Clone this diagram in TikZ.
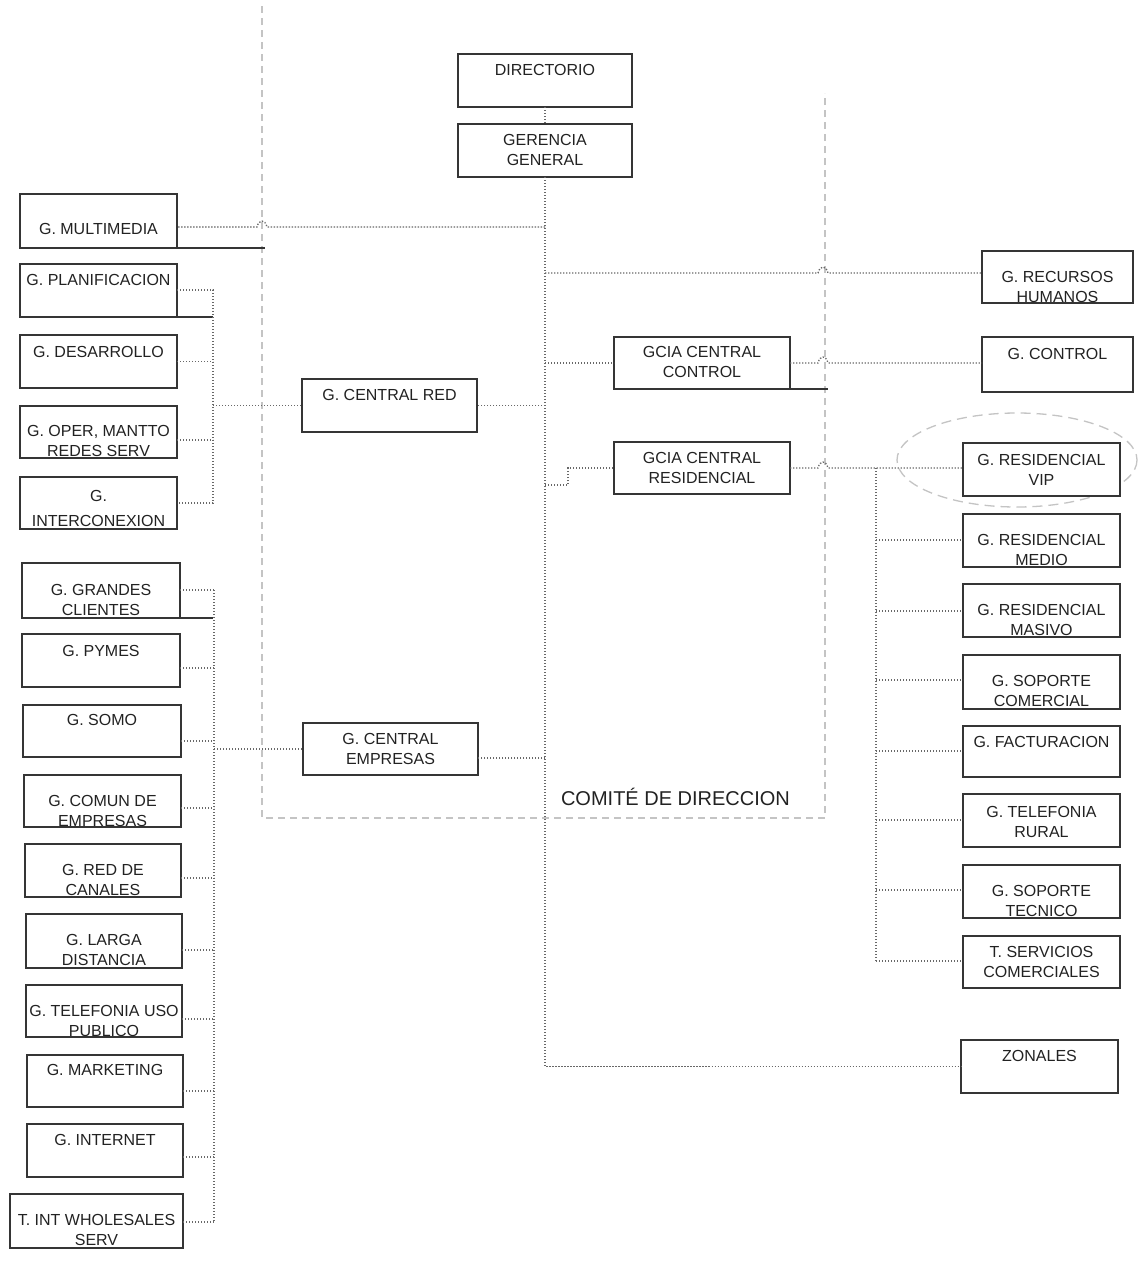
\documentclass[tikz,border=0pt]{standalone}
\usepackage{fontspec}
\setmainfont{Liberation Sans}
\usetikzlibrary{calc}
\definecolor{boxc}{HTML}{353535}
\definecolor{connc}{HTML}{686868}
\definecolor{comc}{HTML}{C4C4C4}
\definecolor{txtc}{HTML}{222222}
\newcommand\orgbox[5]{\node[orgbox, minimum width={(#4-#2)*1pt}, minimum height={(#5-#3)*1pt}] (#1) at ({(#2+#4)/2},{(#3+#5)/2}) {};}
\newcommand\orglab[3]{\path (0,{#2-5.7}) coordinate (#1-ty); \node[lbl] (#1-t) at (#1.center |- #1-ty) {#3};}
\newcommand\lconn[2]{\coordinate (b-#1) at (214,#2); \draw[conn] (b-#1 -| #1.east) -- (b-#1);}
\newcommand\rconn[2]{\coordinate (rb-#1) at (876,#2); \draw[conn] (rb-#1) -- (rb-#1 -| #1.west);}
\begin{document}
\begin{tikzpicture}[x=1pt,y=-1pt,
  orgbox/.style={draw=boxc, line width=1.6pt, fill=white, inner sep=0pt, outer sep=0pt},
  lbl/.style={anchor=north, inner sep=0pt, align=center, text=txtc, font=\fontsize{16}{19.5}\selectfont},
  conn/.style={draw=connc, line width=1.3pt, dash pattern=on 1.3pt off 1.7pt},
  comite/.style={draw=comc, line width=1.3pt, dash pattern=on 7pt off 5pt},
  ext/.style={draw=boxc, line width=1.6pt}]
\useasboundingbox[fill=white] (0,0) rectangle (1139,1275);

% comite frame and ellipse
\draw[comite] (262,6) -- (262,818) -- (825,818) -- (825,93);
\draw[comite, dash pattern=on 10pt off 6pt] (1017,460) ellipse [x radius=120, y radius=47];
\node[anchor=base, inner sep=0pt, text=txtc, font=\fontsize{20}{24}\selectfont] (comlbl) at (675.5,805) {COMITÉ DE DIRECCION};

% boxes
\orgbox{dir}{458}{54}{632}{107}
\orgbox{gg}{458}{124}{632}{177}
\orgbox{mm}{20}{194}{177}{248}
\orgbox{pl}{20}{264}{177}{317}
\orgbox{de}{20}{335}{177}{388}
\orgbox{op}{20}{406}{177}{458}
\orgbox{ic}{20}{477}{177}{529}
\orgbox{cr}{302}{379}{477}{432}
\orgbox{gcc}{614}{337}{790}{389}
\orgbox{gcr}{614}{442}{790}{494}
\orgbox{ce}{303}{723}{478}{775}
\orgbox{rh}{982}{251}{1133}{303}
\orgbox{gc}{982}{337}{1133}{392}
\orgbox{vip}{963}{443}{1120}{496}
\orgbox{me}{963}{514}{1120}{567}
\orgbox{ma}{963}{584}{1120}{637}
\orgbox{sc}{963}{655}{1120}{709}
\orgbox{fa}{963}{726}{1120}{777}
\orgbox{tr}{963}{794}{1120}{847}
\orgbox{st}{963}{865}{1120}{918}
\orgbox{ts}{963}{936}{1120}{988}
\orgbox{zo}{961}{1040}{1118}{1093}
\orgbox{gr}{22}{563}{180}{618}
\orgbox{py}{22}{634}{180}{687}
\orgbox{so}{23}{705}{181}{757}
\orgbox{cm}{24}{775}{181}{827}
\orgbox{rc}{25}{844}{181}{897}
\orgbox{ld}{26}{914}{182}{968}
\orgbox{tu}{26}{985}{182}{1037}
\orgbox{mk}{27}{1055}{183}{1107}
\orgbox{inet}{27}{1124}{183}{1177}
\orgbox{ws}{10}{1194}{183}{1248}

% extended bottom lines
\draw[ext] (mm.south east) -- ++(88,0);
\draw[ext] (pl.south east) -- ++(36,0);
\draw[ext] (gr.south east) -- ++(33,0);
\draw[ext] (gcc.south east) -- ++(38,0);

% labels
\orglab{dir}{70}{DIRECTORIO}
\orglab{gg}{140}{GERENCIA\\GENERAL}
\orglab{mm}{229}{G. MULTIMEDIA}
\orglab{pl}{280}{G. PLANIFICACION}
\orglab{de}{352}{G. DESARROLLO}
\orglab{op}{431}{G. OPER, MANTTO\\REDES SERV}
\orglab{ic}{496}{G.\\[5.5pt]INTERCONEXION}
\orglab{cr}{395}{G. CENTRAL RED}
\orglab{gcc}{352}{GCIA CENTRAL\\CONTROL}
\orglab{gcr}{458}{GCIA CENTRAL\\RESIDENCIAL}
\orglab{ce}{739}{G. CENTRAL\\EMPRESAS}
\orglab{rh}{277}{G. RECURSOS\\HUMANOS}
\orglab{gc}{354}{G. CONTROL}
\orglab{vip}{460}{G. RESIDENCIAL\\VIP}
\orglab{me}{540}{G. RESIDENCIAL\\MEDIO}
\orglab{ma}{610}{G. RESIDENCIAL\\MASIVO}
\orglab{sc}{681}{G. SOPORTE\\COMERCIAL}
\orglab{fa}{742}{G. FACTURACION}
\orglab{tr}{812}{G. TELEFONIA\\RURAL}
\orglab{st}{891}{G. SOPORTE\\TECNICO}
\orglab{ts}{952}{T. SERVICIOS\\COMERCIALES}
\orglab{zo}{1056}{ZONALES}
\orglab{gr}{590}{G. GRANDES\\CLIENTES}
\orglab{py}{651}{G. PYMES}
\orglab{so}{720}{G. SOMO}
\orglab{cm}{801}{G. COMUN DE\\EMPRESAS}
\orglab{rc}{870}{G. RED DE\\CANALES}
\orglab{ld}{940}{G. LARGA\\DISTANCIA}
\orglab{tu}{1011}{G. TELEFONIA USO\\PUBLICO}
\orglab{mk}{1070}{G. MARKETING}
\orglab{inet}{1140}{G. INTERNET}
\orglab{ws}{1220}{T. INT WHOLESALES\\SERV}

% central trunk
\draw[conn] (dir.south) -- (gg.north);
\draw[conn] (gg.south) -- (gg.south |- zo.west) -- (zo.west);

% branches from trunk
\coordinate (c-mm) at (545,227);
\draw[conn] (c-mm) -- (267,227) .. controls (265,219) and (259,219) .. (257,227) -- (c-mm -| mm.east);
\coordinate (c-rh) at (545,273);
\draw[conn] (c-rh) -- (818,273) .. controls (820,265) and (826,265) .. (828,273) -- (c-rh -| rh.west);
\draw[conn] (gcc.west -| gg.south) -- (gcc.west);
\draw[conn] (gcc.east) -- (818,363) .. controls (820,355) and (826,355) .. (828,363) -- (gcc.east -| gc.west);
\draw[conn] (cr.east -| gg.south) -- (cr.east);
\coordinate (c-gcr) at (545,485);
\draw[conn] (c-gcr) -- (568,485) -- (568,468) -- (gcr.west);
\draw[conn] (gcr.east) -- (818,468) .. controls (820,460) and (826,460) .. (828,468) -- (gcr.east -| vip.west);
\coordinate (c-ce) at (545,758);
\draw[conn] (c-ce) -- (c-ce -| ce.east);

% left upper bus
\coordinate (lu-top) at (213,290);
\coordinate (lu-bot) at (213,503);
\coordinate (lu-op) at (213,440);
\draw[conn] (lu-top -| pl.east) -- (lu-top) -- (lu-bot) -- (lu-bot -| ic.east);
\draw[conn] (de.east) -- (de.east -| lu-top);
\draw[conn] (lu-op -| op.east) -- (lu-op);
\draw[conn] (cr.west -| lu-top) -- (cr.west);

% left lower bus
\coordinate (ll-top) at (214,590);
\coordinate (ll-bot) at (214,1222);
\draw[conn] (ll-top) -- (ll-bot);
\lconn{gr}{590}
\lconn{py}{668}
\lconn{so}{741}
\lconn{cm}{808}
\lconn{rc}{878}
\lconn{ld}{950}
\lconn{tu}{1019}
\lconn{mk}{1091}
\lconn{inet}{1157}
\lconn{ws}{1222}
\draw[conn] (ce.west -| ll-top) -- (ce.west);

% right bus
\coordinate (rb-top) at (876,468);
\coordinate (rb-bot) at (876,961);
\draw[conn] (rb-top) -- (rb-bot);
\rconn{me}{540}
\rconn{ma}{611}
\rconn{sc}{680}
\rconn{fa}{751}
\rconn{tr}{820}
\rconn{st}{890}
\rconn{ts}{961}
\end{tikzpicture}
\end{document}
